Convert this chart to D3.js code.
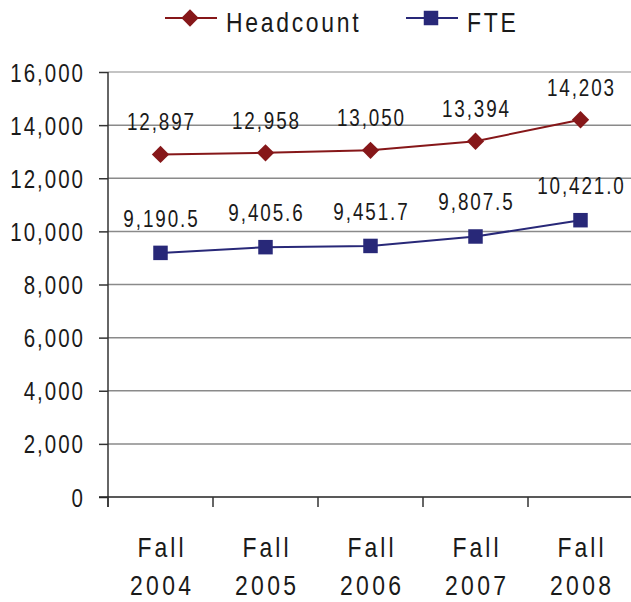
<!DOCTYPE html>
<html>
<head>
<meta charset="utf-8">
<script src="https://cdn.jsdelivr.net/npm/d3@7"></script>
<style>
  body { margin: 0; background: #fff; }
  text { font-family: "Liberation Sans", Arial, sans-serif; fill: #1a1a1a; }
</style>
</head>
<body>
<script>
    // chart data
    const years = ["2004", "2005", "2006", "2007", "2008"];
    const headcount = [12897, 12958, 13050, 13394, 14203];
    const fte = [9190.5, 9405.6, 9451.7, 9807.5, 10421.0];
    const yTicks = [0, 2000, 4000, 6000, 8000, 10000, 12000, 14000, 16000];

    const NARROW = 0.82; // squeeze Liberation Sans to look like Arial Narrow

    const svg = d3.select("body").append("svg")
      .attr("width", 631)
      .attr("height", 602)

    const xScale = d3.scaleBand()
      .domain(years)
      .range([108, 633])

    const yScale = d3.scaleLinear()
      .domain([0, 16000])
      .range([497, 72])

    const cx = y => xScale(y) + xScale.bandwidth() / 2

    // narrow text helper
    function label(g, x, y, str, size, spacing, anchor) {
      const shift = anchor == "middle" ? spacing / 2 : anchor == "end" ? spacing : 0
      return g.append("text")
        .attr("transform", `translate(${x + shift},${y}) scale(${NARROW},1)`)
        .attr("text-anchor", anchor)
        .style("font-size", size + "px")
        .style("letter-spacing", (spacing / NARROW) + "px")
        .text(str)
    }

    const series = [
      {name: "Headcount", values: headcount, color: "#861719", shape: d3.symbolSquare, size: 150, rot: 45, off: 24, fmt: d3.format(",")},
      {name: "FTE", values: fte, color: "#282878", shape: d3.symbolSquare, size: 210, rot: 0, off: 26, fmt: d3.format(",.1f")}
    ];

    // gridlines
    svg.append("g")
      .selectAll("line")
      .data(yTicks.filter(d => d > 0))
      .enter()
      .append("line")
      .attr("x1", 108).attr("x2", 631)
      .attr("y1", d => yScale(d)).attr("y2", d => yScale(d))
      .attr("stroke", d => d == 16000 ? "#b0b0b0" : "#8a8a8a")
      .attr("stroke-width", 1.5)

    // y axis
    const yAxis = svg.append("g")
      .attr("transform", "translate(108,0)")
      .call(d3.axisLeft(yScale).tickValues(yTicks).tickSize(9).tickFormat(""))
    yAxis.select(".domain").attr("stroke", "#333").attr("stroke-width", 1.5).attr("d", "M0,72V507")
    yAxis.selectAll(".tick line").attr("stroke", "#333").attr("stroke-width", 1.5)
    yAxis.selectAll(".tick").each(function(d) {
      label(d3.select(this), -25, 9, d3.format(",")(d), 25, 2, "end")
    })

    // x axis
    const xAxis = svg.append("g")
      .attr("transform", "translate(0,497)")
    xAxis.append("line")
      .attr("x1", 99).attr("x2", 631)
      .attr("stroke", "#222").attr("stroke-width", 1.5)
    xAxis.selectAll(".xt")
      .data(years)
      .enter()
      .append("line")
      .attr("x1", d => xScale(d)).attr("x2", d => xScale(d))
      .attr("y1", 0).attr("y2", 10)
      .attr("stroke", "#333").attr("stroke-width", 1.5)
    years.forEach(y => {
      label(xAxis, cx(y), 60, "Fall", 28, 3, "middle")
      label(xAxis, cx(y), 98, y, 28, 3.3, "middle")
    })

    const line = d3.line()
      .x((d, i) => cx(years[i]))
      .y(d => yScale(d))

    series.forEach(s => {
      const g = svg.append("g")
      g.append("path")
        .attr("d", line(s.values))
        .attr("fill", "none")
        .attr("stroke", s.color)
        .attr("stroke-width", 2)
      g.selectAll("path.m")
        .data(s.values)
        .enter()
        .append("path")
        .attr("class", "m")
        .attr("d", d3.symbol().type(s.shape).size(s.size))
        .attr("transform", (d, i) => `translate(${cx(years[i])},${yScale(d)}) rotate(${s.rot})`)
        .attr("fill", s.color)
      s.values.forEach((d, i) => {
        label(g, cx(years[i]), yScale(d) - s.off, s.fmt(d), 23, 1.9, "middle")
      })
    })

    // legend
    const legendX = [165, 406];
    const leg = svg.append("g")
    series.forEach((s, i) => {
      const x0 = legendX[i]
      leg.append("line")
        .attr("x1", x0).attr("x2", x0 + 52)
        .attr("y1", 18).attr("y2", 18)
        .attr("stroke", s.color).attr("stroke-width", 2)
      leg.append("path")
        .attr("d", d3.symbol().type(s.shape).size(s.size)())
        .attr("transform", `translate(${x0 + 25},18) rotate(${s.rot})`)
        .attr("fill", s.color)
      label(leg, x0 + 61, 32, s.name, 28, 2.7, "start")
    })
</script>
</body>
</html>
